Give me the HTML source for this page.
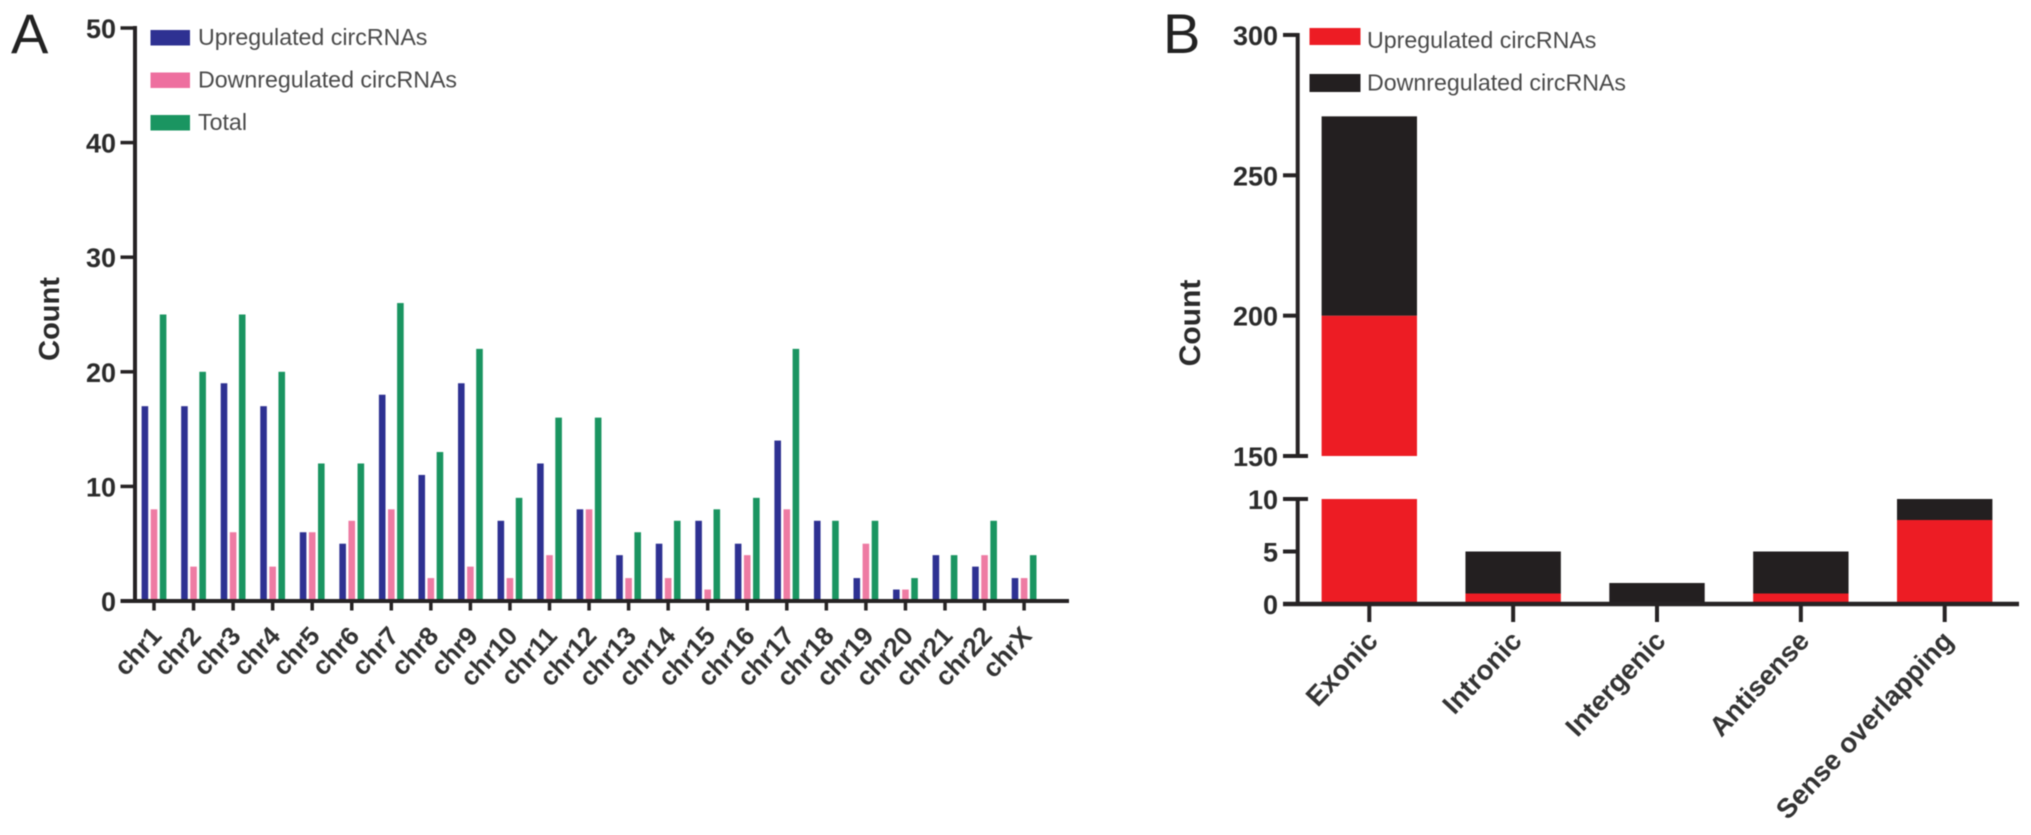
<!DOCTYPE html>
<html lang="en">
<head>
<meta charset="utf-8">
<title>circRNA counts by chromosome and by type</title>
<style>
html,body{margin:0;padding:0;background:#fff;width:2031px;height:835px;overflow:hidden}
svg{display:block;font-family:"Liberation Sans",Arial,sans-serif;filter:blur(.6px)}
.tick{font-weight:700;font-size:27px;fill:#2b2b2b;text-anchor:end}
.axt{font-weight:700;fill:#2b2b2b;text-anchor:middle}
.cat{font-weight:700;fill:#333;text-anchor:end}
.leg{font-size:23.2px;fill:#4a4a4a}
.panel{font-size:56px;fill:#222}
</style>
</head>
<body>
<svg id="fig" xmlns="http://www.w3.org/2000/svg" width="2031" height="835" viewBox="0 0 2031 835">
  <rect width="2031" height="835" fill="#fff"/>
  <text class="panel" x="11" y="53">A</text>
  <text class="panel" x="1163" y="53">B</text>
  <g id="chartA"></g>
  <g id="chartB"></g>

  <text class="axt" font-size="29" transform="translate(59,319) rotate(-90)">Count</text>
  <text class="axt" font-size="30" transform="translate(1200,323) rotate(-90)">Count</text>

  <g>
    <rect x="150.5" y="30" width="39.5" height="15.5" fill="#2e3192"/>
    <text class="leg" x="198" y="45">Upregulated circRNAs</text>
    <rect x="150.5" y="72.5" width="39.5" height="15.5" fill="#ee6f9f"/>
    <text class="leg" x="198" y="87.5">Downregulated circRNAs</text>
    <rect x="150.5" y="115" width="39.5" height="15.5" fill="#1a9561"/>
    <text class="leg" x="198" y="130">Total</text>
  </g>
  <g>
    <rect x="1309.5" y="28" width="51" height="17" fill="#ed1c24"/>
    <text class="leg" x="1367" y="48">Upregulated circRNAs</text>
    <rect x="1309.5" y="74" width="51" height="18" fill="#231f20"/>
    <text class="leg" x="1367" y="90.5">Downregulated circRNAs</text>
  </g>
</svg>
<script>
const chromosomes = ["chr1","chr2","chr3","chr4","chr5","chr6","chr7","chr8","chr9","chr10","chr11","chr12","chr13","chr14","chr15","chr16","chr17","chr18","chr19","chr20","chr21","chr22","chrX"];
const upregulatedA = [17,17,19,17,6,5,18,11,19,7,12,8,4,5,7,5,14,7,2,1,4,3,2];
const downregulatedA = [8,3,6,3,6,7,8,2,3,2,4,8,2,2,1,4,8,0,5,1,0,4,2];
const totalA = [25,20,25,20,12,12,26,13,22,9,16,16,6,7,8,9,22,7,7,2,4,7,4];
const yTicksA = [0,10,20,30,40,50];

const typesB = ["Exonic","Intronic","Intergenic","Antisense","Sense overlapping"];
const upregulatedB = [200,1,0,1,8];
const downregulatedB = [71,4,2,4,2];
const yTicksLowerB = [0,5,10];
const yTicksUpperB = [150,200,250,300];

const NS = "http://www.w3.org/2000/svg";
function mk(parent, tag, attrs, txt){
  const e = document.createElementNS(NS, tag);
  for (const k in attrs) e.setAttribute(k, attrs[k]);
  if (txt !== undefined) e.textContent = txt;
  parent.appendChild(e);
  return e;
}
const DARK = "#262324";

/* ---------- Panel A ---------- */
const gA = document.getElementById("chartA");
const yA = v => 601 - v * 11.46;
const xA = i => 154 + i * 39.55;
const barW = 6.6;
function barA(i, v, off, color, name){
  const r = mk(gA, "rect", {x: xA(i) + off - barW/2, y: yA(v), width: barW, height: yA(0) - yA(v), fill: color});
  
  
}
chromosomes.forEach((c, i) => {
  barA(i, upregulatedA[i], -9.1, "#2e3192", "bar-up");
  barA(i, downregulatedA[i], 0, "#ee7ba3", "bar-down");
  barA(i, totalA[i], 9.1, "#1a9561", "bar-total");
  const t = mk(gA, "line", {x1: xA(i), x2: xA(i), y1: 601, y2: 610.5, stroke: DARK, "stroke-width": 3.5});
  
  
  const lab = mk(gA, "text", {class: "cat", "font-size": 26, transform: `translate(${xA(i) + 9},637) rotate(-47)`}, c);
  
  
});
const axYA = mk(gA, "line", {x1: 135, x2: 135, y1: yA(50) - 2, y2: 603, stroke: DARK, "stroke-width": 4});


const axXA = mk(gA, "line", {x1: 120.5, x2: 1069, y1: 601, y2: 601, stroke: DARK, "stroke-width": 4});


yTicksA.forEach(v => {
  const t = mk(gA, "line", {x1: 120.5, x2: 135, y1: yA(v), y2: yA(v), stroke: DARK, "stroke-width": 3.5});
  
  
  const l = mk(gA, "text", {class: "tick", x: 116, y: yA(v) + 10}, String(v));
  
  
});

/* ---------- Panel B (broken axis) ---------- */
const gB = document.getElementById("chartB");
const yLow = v => 604 - v * 10.5;
const yHigh = v => 456 - (v - 150) * 2.807;
const xB = i => 1369.3 + i * 143.85;
const widthB = 95.4;
function segment(i, a, b, color, name){
  [[0, 10, yLow], [150, 300, yHigh]].forEach(([lo, hi, scale]) => {
    const s = Math.max(a, lo), e = Math.min(b, hi);
    if (e > s) {
      const r = mk(gB, "rect", {x: xB(i) - widthB/2, y: scale(e), width: widthB, height: scale(s) - scale(e), fill: color});
      
      
    }
  });
}
typesB.forEach((c, i) => {
  segment(i, 0, upregulatedB[i], "#ed1c24", "bar-up");
  segment(i, upregulatedB[i], upregulatedB[i] + downregulatedB[i], "#231f20", "bar-down");
  const t = mk(gB, "line", {x1: xB(i), x2: xB(i), y1: 604, y2: 622, stroke: DARK, "stroke-width": 4});
  
  
  const lab = mk(gB, "text", {class: "cat", "font-size": 27.5, transform: `translate(${xB(i) + 10},642) rotate(-47)`}, c);
  
  
});
const axUp = mk(gB, "line", {x1: 1297.7, x2: 1297.7, y1: yHigh(300) - 2, y2: yHigh(150), stroke: DARK, "stroke-width": 4});


const axLow = mk(gB, "line", {x1: 1297.7, x2: 1297.7, y1: yLow(10), y2: yLow(0), stroke: DARK, "stroke-width": 4});


const axXB = mk(gB, "line", {x1: 1283, x2: 2019, y1: 604, y2: 604, stroke: DARK, "stroke-width": 4.5});


function tickB(v, y, long){
  const t = mk(gB, "line", {x1: 1283, x2: long ? 1308 : 1297.7, y1: y, y2: y, stroke: DARK, "stroke-width": 4});
  
  
  const l = mk(gB, "text", {class: "tick", x: 1278, y: y + 10}, String(v));
  
  
}
yTicksUpperB.forEach(v => tickB(v, yHigh(v), v === yTicksUpperB[0]));
yTicksLowerB.forEach(v => tickB(v, yLow(v), v === yTicksLowerB[yTicksLowerB.length - 1]));
</script>
</body>
</html>
